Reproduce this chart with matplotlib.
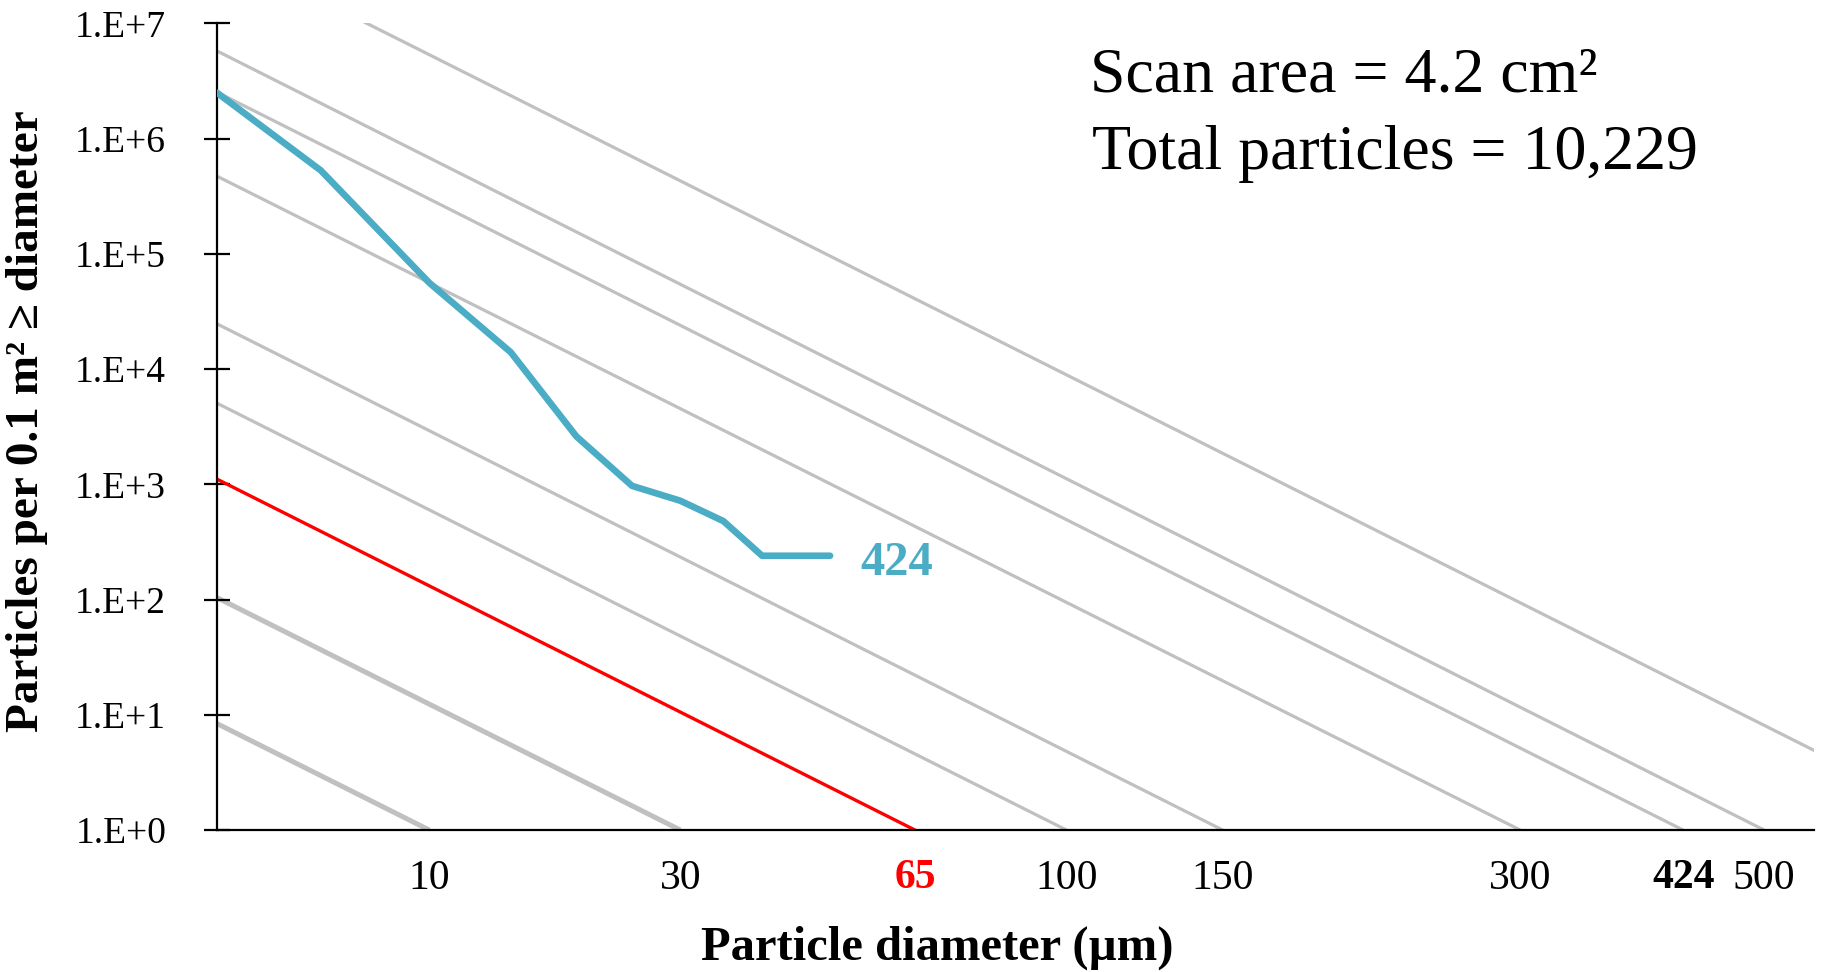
import numpy as np
import matplotlib
matplotlib.use('Agg')
import matplotlib.pyplot as plt
from matplotlib.ticker import NullLocator

plt.rcParams['font.family'] = ['Liberation Serif', 'DejaVu Serif']

# Amostra medida (curva azul)
tamanhos = [1, 5, 10, 15, 20, 25, 30, 35, 40, 50]
contagens = [2.5e6, 5.3e5, 5.6e4, 1.4e4, 2.6e3, 970, 720, 480, 240, 240]

# Linhas de nivel de limpeza: tamanho do nivel e contagem lida em x = 1 um
niveis = [10, 30, 100, 150, 300, 424, 500, 750]
niveis_em_1um = [8.4, 104, 5060, 24700, 4.72e5, 2.53e6, 5.76e6, 4.5e7]
nivel_alvo = 65
alvo_em_1um = 1110

x_ticks = [10, 30, 65, 100, 150, 300, 424, 500]
y_ticks = [1, 1e1, 1e2, 1e3, 1e4, 1e5, 1e6, 1e7]
y_labels = ['1.E+0', '1.E+1', '1.E+2', '1.E+3', '1.E+4', '1.E+5', '1.E+6', '1.E+7']


def fwd(x):
    return np.log10(np.clip(x, 1, None)) ** 2


def inv(y):
    return 10 ** np.sqrt(np.clip(y, 0, None))


fig = plt.figure(figsize=(18.23, 9.72), dpi=100)
ax = fig.add_axes([0.119, 0.146, 0.876, 0.830])

ax.set_xscale('function', functions=(fwd, inv))
ax.set_yscale('log')

for nivel, n0 in zip(niveis, niveis_em_1um):
    lw = 3.6 if nivel <= 30 else 2.3
    ax.plot([1, nivel], [n0, 1], color='#C0C0C0', lw=lw, solid_capstyle='butt', zorder=1)

ax.plot([1, nivel_alvo], [alvo_em_1um, 1], color='#FF0000', lw=2.4, zorder=2)

ax.plot(tamanhos, contagens, color='#4BACC6', lw=4.8, solid_capstyle='round',
        solid_joinstyle='round', zorder=3)
ax.text(tamanhos[-1] * 1.10, contagens[-1] * 0.86, '424', color='#4BACC6', fontsize=35,
        fontweight='bold', va='center', ha='left')

ax.set_xlim(1, 552)
ax.set_ylim(1, 1e7)

ax.set_xticks(x_ticks)
ax.set_xticklabels([str(t) for t in x_ticks])
ax.xaxis.set_minor_locator(NullLocator())
ax.tick_params(axis='x', length=0, pad=21, labelsize=30)
for lbl in ax.get_xticklabels():
    if lbl.get_text() == '65':
        lbl.set_color('#FF0000')
        lbl.set_fontweight('bold')
    if lbl.get_text() == '424':
        lbl.set_fontweight('bold')

ax.set_yticks(y_ticks)
ax.set_yticklabels(y_labels)
ax.yaxis.set_minor_locator(NullLocator())
ax.tick_params(axis='y', direction='inout', length=19, width=1.6, pad=27, labelsize=27)

for s in ['top', 'right']:
    ax.spines[s].set_visible(False)
ax.spines['left'].set_linewidth(1.6)
ax.spines['bottom'].set_linewidth(1.6)

fig.text(0.514, 1 - 948 / 972, 'Particle diameter (µm)', fontsize=35, fontweight='bold',
         ha='center', va='center')
fig.text(0.015, 1 - 421 / 972, 'Particles per 0.1 m² ≥ diameter', rotation=90, fontsize=34,
         fontweight='bold', ha='center', va='center')

fig.text(0.598, 1 - 91 / 972, 'Scan area = 4.2 cm²', fontsize=46, va='baseline')
fig.text(0.599, 1 - 169 / 972, 'Total particles = 10,229', fontsize=46, va='baseline')

plt.savefig('out.png', dpi=100)
